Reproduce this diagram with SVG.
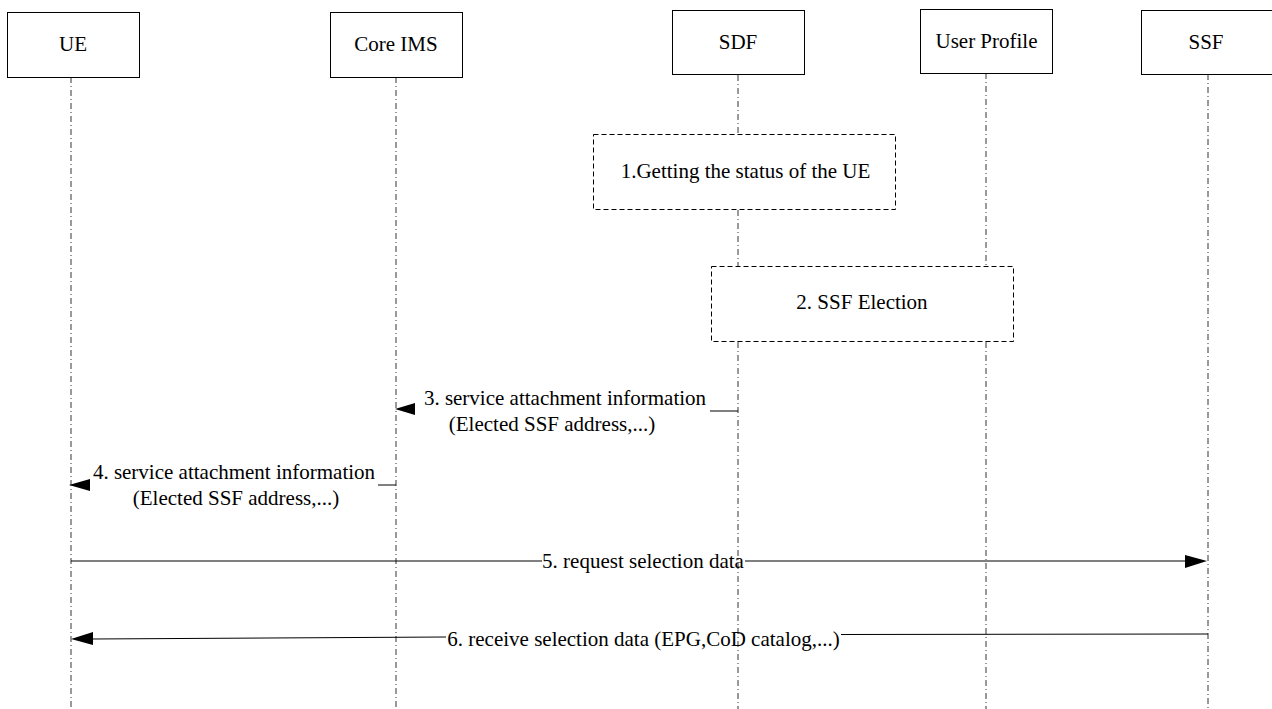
<svg xmlns="http://www.w3.org/2000/svg" width="1272" height="709" viewBox="0 0 1272 709">
  <defs>
    <style>
      .box { fill: #fff; stroke: #000; stroke-width: 1; }
      .act { fill: #fff; stroke: #000; stroke-width: 1; stroke-dasharray: 5 3; }
      .life { fill: none; stroke: #000; stroke-width: 0.8; stroke-dasharray: 6 3 1 3; }
      .msg { fill: none; stroke: #000; stroke-width: 1; }
      .head { fill: #000; stroke: none; }
      .t { font-family: "Liberation Serif", "Times New Roman", serif; font-size: 21px; fill: #000; text-anchor: middle; }
    </style>
  </defs>

  <!-- lifelines, broken where the activity boxes sit on them -->
  <g id="lifelines">
    <line class="life" x1="71" y1="77" x2="71" y2="709"/>
    <line class="life" x1="396" y1="77" x2="396" y2="709"/>
    <line class="life" x1="738" y1="75" x2="738" y2="134"/>
    <line class="life" x1="738" y1="210" x2="738" y2="266"/>
    <line class="life" x1="738" y1="342" x2="738" y2="709"/>
    <line class="life" x1="986" y1="73" x2="986" y2="266"/>
    <line class="life" x1="986" y1="342" x2="986" y2="709"/>
    <line class="life" x1="1208" y1="74" x2="1208" y2="709"/>
  </g>

  <!-- participants -->
  <g id="ue">
    <rect class="box" x="7.5" y="12.5" width="132" height="65"/>
    <text class="t" x="73" y="51">UE</text>
  </g>
  <g id="core-ims">
    <rect class="box" x="330.5" y="12.5" width="132" height="65"/>
    <text class="t" x="396" y="51">Core IMS</text>
  </g>
  <g id="sdf">
    <rect class="box" x="672.5" y="10.5" width="132" height="64"/>
    <text class="t" x="738" y="49">SDF</text>
  </g>
  <g id="user-profile">
    <rect class="box" x="920.5" y="9.5" width="132" height="64"/>
    <text class="t" x="986.5" y="48">User Profile</text>
  </g>
  <g id="ssf">
    <rect class="box" x="1141.5" y="10.5" width="131" height="64"/>
    <text class="t" x="1206" y="49">SSF</text>
  </g>

  <!-- activity boxes -->
  <g id="step1">
    <rect class="act" x="593.5" y="134.5" width="302" height="75"/>
    <text class="t" x="745.5" y="178">1.Getting the status of the UE</text>
  </g>
  <g id="step2">
    <rect class="act" x="711.5" y="266.5" width="302" height="75"/>
    <text class="t" x="862" y="309">2. SSF Election</text>
  </g>

  <!-- messages -->
  <g id="connectors">
    <!-- 3: SDF to Core IMS -->
    <line class="msg" x1="710" y1="411" x2="738" y2="411"/>
    <polygon class="head" points="395,409 415,403 415,415"/>
    <text class="t" x="565" y="405">3. service attachment information</text>
    <text class="t" x="552" y="431">(Elected SSF address,...)</text>
    <!-- 4: Core IMS to UE -->
    <line class="msg" x1="378" y1="485" x2="396" y2="485"/>
    <polygon class="head" points="69,485 90,479 90,491"/>
    <text class="t" x="234" y="479">4. service attachment information</text>
    <text class="t" x="236" y="505">(Elected SSF address,...)</text>
    <!-- 5: UE to SSF -->
    <line class="msg" x1="71" y1="561" x2="542" y2="561"/>
    <line class="msg" x1="745" y1="561" x2="1186" y2="561"/>
    <polygon class="head" points="1207,561 1185,555 1185,568"/>
    <text class="t" x="643" y="568">5. request selection data</text>
    <!-- 6: SSF to UE -->
    <line class="msg" x1="841" y1="634.5" x2="1208" y2="634"/>
    <line class="msg" x1="92" y1="639" x2="446" y2="637"/>
    <polygon class="head" points="71,639 93,632 93,645"/>
    <text class="t" x="643.5" y="646">6. receive selection data (EPG,CoD catalog,...)</text>
  </g>
</svg>
